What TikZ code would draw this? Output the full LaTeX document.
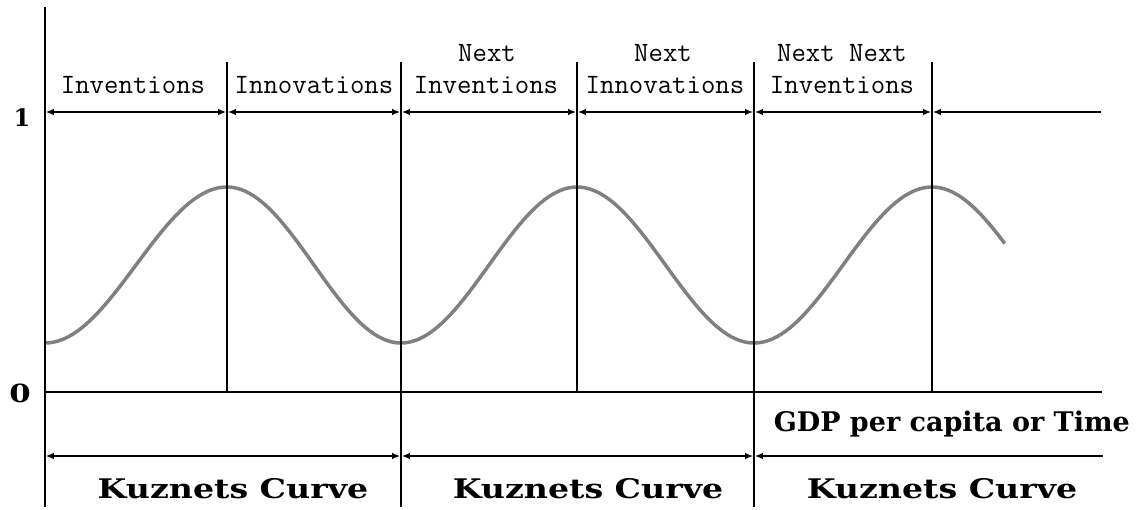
\documentclass[tikz,border=0pt]{standalone}
\usepackage{fontspec}
\usetikzlibrary{arrows.meta}
\newfontfamily\bfnt{DejaVu Serif}
\newfontfamily\widebfnt[FakeStretch=1.23]{DejaVu Serif}
\begin{document}
\begin{tikzpicture}[x=1pt,y=-1pt,
  axis/.style={line width=1.6pt, black},
  dim/.style={line width=1.6pt, black, shorten >=0.8pt, shorten <=0.8pt},
  both/.style={dim, {Latex[length=8pt,width=6.5pt]}-{Latex[length=8pt,width=6.5pt]}},
  leftonly/.style={dim, {Latex[length=8pt,width=6.5pt]}-},
  lbl/.style={font=\ttfamily\fontsize{28}{32}\selectfont, anchor=base, inner sep=0pt},
  big/.style={font=\bfnt\bfseries\fontsize{27}{32}\selectfont, anchor=base, inner sep=0pt},
  wide/.style={font=\widebfnt\bfseries\fontsize{27}{32}\selectfont, anchor=base, inner sep=0pt},
  wave/.style={line width=3.5pt, color={rgb,255:red,128;green,128;blue,128}, line join=round}]
\useasboundingbox (0,0) rectangle (1142,509);
% frame coordinates
\coordinate (T0) at (45,7);   \coordinate (B0) at (45,507);
\coordinate (v1t) at (227,62); \coordinate (v1b) at (227,392);
\coordinate (v2t) at (401,62); \coordinate (v2b) at (401,507);
\coordinate (v3t) at (577,62); \coordinate (v3b) at (577,392);
\coordinate (v4t) at (754,62); \coordinate (v4b) at (754,507);
\coordinate (v5t) at (932,62); \coordinate (v5b) at (932,392);
\coordinate (a0) at (45,112);  \coordinate (a1) at (227,112);
\coordinate (a2) at (401,112); \coordinate (a3) at (577,112);
\coordinate (a4) at (754,112); \coordinate (a5) at (932,112);
\coordinate (a6) at (1102,112);
\coordinate (z0) at (45,392);  \coordinate (z6) at (1102,392);
\coordinate (k0) at (45,456);  \coordinate (k1) at (401,456);
\coordinate (k2) at (754,456); \coordinate (k3) at (1104,456);
% wave
\draw[wave] plot[domain=0:180,samples=40] ({45+\x/180*182},{265+78*cos(\x)})
  -- plot[domain=180:360,samples=40] ({227+(\x-180)/180*174},{265+78*cos(\x)})
  -- plot[domain=0:180,samples=40] ({401+\x/180*176},{265+78*cos(\x)})
  -- plot[domain=180:360,samples=40] ({577+(\x-180)/180*177},{265+78*cos(\x)})
  -- plot[domain=0:180,samples=40] ({754+\x/180*178},{265+78*cos(\x)})
  -- plot[domain=180:254,samples=20] ({932+(\x-180)/180*177},{265+78*cos(\x)});
% axes and verticals
\draw[axis] (T0) -- (B0);
\draw[axis] (v1t) -- (v1b);
\draw[axis] (v2t) -- (v2b);
\draw[axis] (v3t) -- (v3b);
\draw[axis] (v4t) -- (v4b);
\draw[axis] (v5t) -- (v5b);
\draw[axis] (z0) -- (z6);
% top dimension arrows
\draw[both] (a0) -- (a1);
\draw[both] (a1) -- (a2);
\draw[both] (a2) -- (a3);
\draw[both] (a3) -- (a4);
\draw[both] (a4) -- (a5);
\draw[leftonly] (a5) -- (a6);
% bottom dimension arrows
\draw[both] (k0) -- (k1);
\draw[both] (k1) -- (k2);
\draw[leftonly] (k2) -- (k3);
% labels
\node[lbl] (l1) at (133,93) {Inventions};
\node[lbl] (l2) at (314,93) {Innovations};
\node[lbl] (l3a) at (487,61) {Next};
\node[lbl] (l3b) at (486,93) {Inventions};
\node[lbl] (l4a) at (663,61) {Next};
\node[lbl] (l4b) at (665,93) {Innovations};
\node[lbl] (l5a) at (842,61) {Next Next};
\node[lbl] (l5b) at (842,93) {Inventions};
\node[big, font=\bfnt\bfseries\fontsize{24}{28}\selectfont] (one) at (22,126) {1};
\node[wide, font=\widebfnt\bfseries\fontsize{25}{28}\selectfont] (zero) at (20,402) {0};
\node[big, anchor=base east] (gdp) at (1130,431) {GDP per capita or Time};
\node[wide] (k1l) at (233,498) {Kuznets Curve};
\node[wide] (k2l) at (588,498) {Kuznets Curve};
\node[wide] (k3l) at (942,498) {Kuznets Curve};
\end{tikzpicture}
\end{document}
